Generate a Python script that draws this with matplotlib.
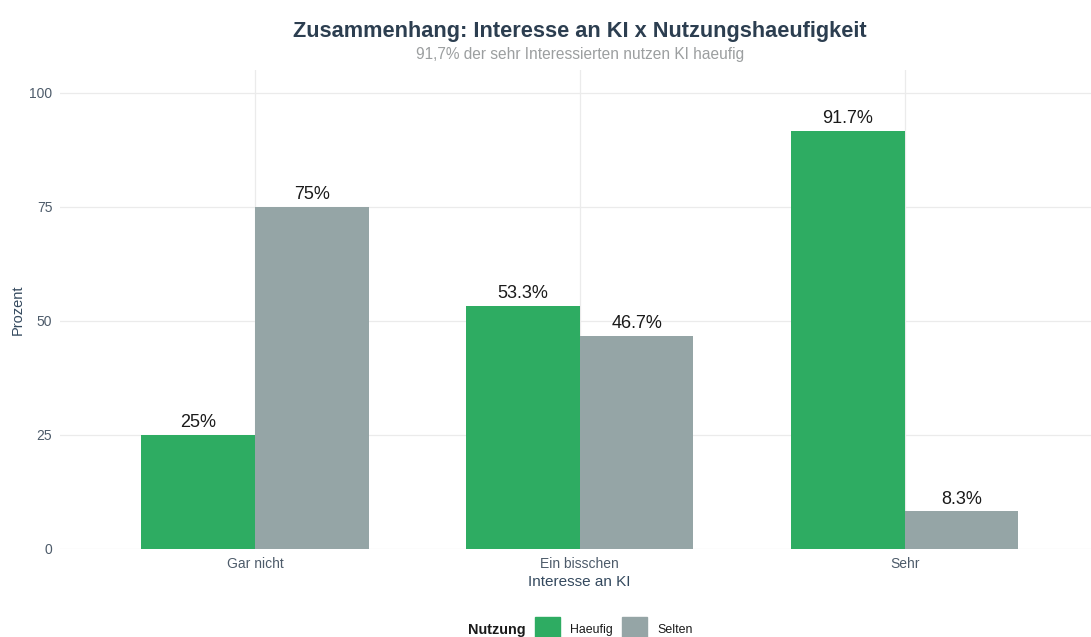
import matplotlib
matplotlib.use("Agg")
import matplotlib.pyplot as plt
from matplotlib.patches import Rectangle
import numpy as np

categories = ["Gar nicht", "Ein bisschen", "Sehr"]
series_names = ["Haeufig", "Selten"]
haeufig = [25.0, 53.3, 91.7]
selten = [75.0, 46.7, 8.3]
haeufig_labels = ["25%", "53.3%", "91.7%"]
selten_labels = ["75%", "46.7%", "8.3%"]
y_ticks = [0, 25, 50, 75, 100]

title = "Zusammenhang: Interesse an KI x Nutzungshaeufigkeit"
subtitle = "91,7% der sehr Interessierten nutzen KI haeufig"
x_title = "Interesse an KI"
y_title = "Prozent"
legend_title = "Nutzung"

c_green = "#2eac62"
c_gray = "#95a5a6"
c_dark = "#2c3e50"
c_tick = "#4d5b6a"

plt.rcParams['font.family'] = ['Liberation Sans', 'DejaVu Sans']

W, H = 1091, 637
fig = plt.figure(figsize=(W / 100, H / 100), dpi=100)
left_px, right_px, top_px, bottom_px = 60, 1099.5, 70, 549
ax = fig.add_axes([left_px / W, (H - bottom_px) / H,
                   (right_px - left_px) / W, (bottom_px - top_px) / H])

x = np.arange(1, len(categories) + 1)
bw = 0.35
ax.bar(x - bw / 2, haeufig, width=bw, color=c_green, zorder=2)
ax.bar(x + bw / 2, selten, width=bw, color=c_gray, zorder=2)

for xi, v, lab in zip(x - bw / 2, haeufig, haeufig_labels):
    ax.annotate(lab, (xi, v), xytext=(0, 2.5), textcoords="offset points",
                ha="center", va="bottom", fontsize=13, color="#1a1a1a")
for xi, v, lab in zip(x + bw / 2, selten, selten_labels):
    ax.annotate(lab, (xi, v), xytext=(0, 2.5), textcoords="offset points",
                ha="center", va="bottom", fontsize=13, color="#1a1a1a")

ax.set_xlim(0.4, 3.6)
ax.set_ylim(0, 105)
ax.set_xticks(x)
ax.set_xticklabels(categories)
ax.set_yticks(y_ticks)
ax.tick_params(axis="both", length=0, labelsize=10, labelcolor=c_tick)
ax.tick_params(axis="x", pad=6)
ax.tick_params(axis="y", pad=5.5)
ax.grid(True, color="#ebebeb", linewidth=0.9, zorder=0)
ax.set_axisbelow(True)
for s in ax.spines.values():
    s.set_visible(False)

ax.set_xlabel(x_title, fontsize=11, color="#34495e", labelpad=3)
ax.set_ylabel(y_title, fontsize=10.5, color="#34495e", labelpad=3)

cx = (left_px + right_px) / 2 / W
fig.text(cx, 1 - 31 / H, title, ha="center", va="center", fontsize=15.7,
         fontweight="bold", color=c_dark)
fig.text(cx, 1 - 54 / H, subtitle, ha="center", va="center", fontsize=11.2,
         color="#9c9fa0")

# legend (bottom, horizontal)
ly = 1 - 630 / H
fig.text(526 / W, ly, legend_title, ha="right", va="center", fontsize=10.4,
         fontweight="bold", color="#1a1a1a")
key = 25
for xk, col, name in [(535, c_green, series_names[0]), (622, c_gray, series_names[1])]:
    fig.patches.append(Rectangle((xk / W, (H - 642) / H), key / W, key / H,
                                 transform=fig.transFigure, color=col))
    fig.text((xk + key + 10) / W, ly, name, ha="left", va="center",
             fontsize=8.9, color="#1a1a1a")

fig.savefig("out.png", dpi=100)
